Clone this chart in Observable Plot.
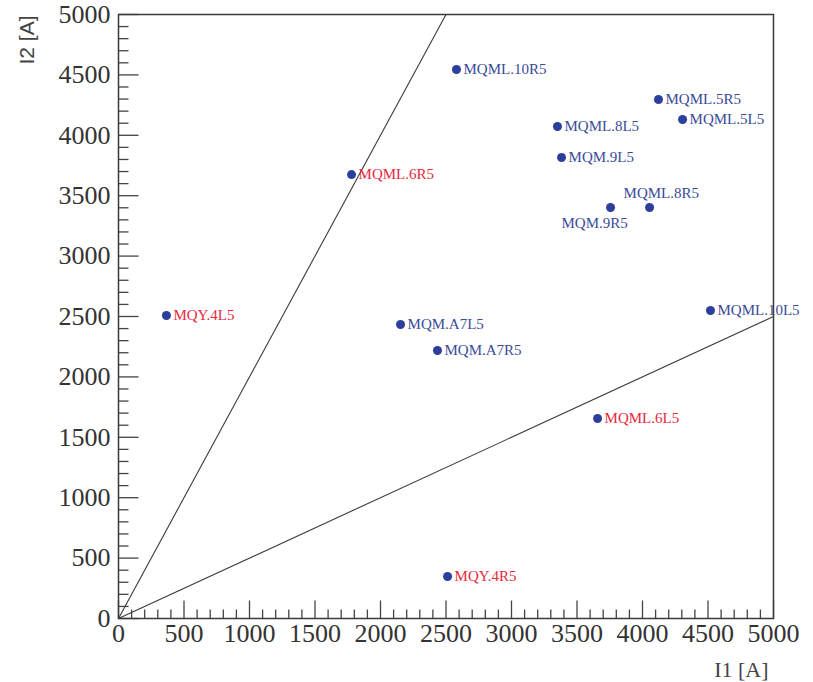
<!DOCTYPE html>
<html><head><meta charset="utf-8">
<script src="https://cdn.jsdelivr.net/npm/d3@7"></script>
<script src="https://cdn.jsdelivr.net/npm/@observablehq/plot@0.6"></script>
<style>body{margin:0;background:#fff}</style>
</head><body><div id="chart"></div>
<script>
const magnets = ["MQML.10R5","MQML.5R5","MQML.5L5","MQML.8L5","MQM.9L5","MQML.8R5","MQM.9R5","MQML.6R5","MQY.4L5","MQM.A7L5","MQM.A7R5","MQML.10L5","MQML.6L5","MQY.4R5"];
const i1 = [2580,4122,4306,3351,3382,4054,3756,1779,366,2153,2435,4519,3657,2512];
const i2 = [4545,4296,4131,4073,3816,3402,3402,3675,2508,2434,2219,2550,1656,348];
const majorTicks = [0,500,1000,1500,2000,2500,3000,3500,4000,4500,5000];
const minorTicks = d3.range(0, 5001, 100).filter(v => v % 500 !== 0);
const ratioLimits = [0.5, 2];
const axisMax = 5000;
const labelAbove = ["MQML.8R5"];
const labelBelow = ["MQM.9R5"];
const yTitle = "I2 [A]";
const xTitle = "I1 [A]";

const data = magnets.map((name, i) => ({name, i1: i1[i], i2: i2[i]}));
const lines = ratioLimits.map(r => {
  const x = Math.min(axisMax, axisMax / r);
  return {x1: 0, y1: 0, x2: x, y2: r * x};
});
const BLUE_DOT = "#2c3f9c", BLUE_TXT = "#3a4b98", RED_TXT = "#e8283c";
const out = d => { const r = d.i2 / d.i1; return r < ratioLimits[0] || r > ratioLimits[1]; };
const txtFill = d => out(d) ? RED_TXT : BLUE_TXT;
const SERIF = "'Liberation Serif', serif";
const SANS = "'Liberation Sans', sans-serif";

const tickUp = {draw(ctx, l) { ctx.moveTo(0, 0); ctx.lineTo(0, -l); }};

const labelOpts = {x: "i1", y: "i2", text: "name", fill: txtFill, fontSize: 15, textAnchor: "start"};

const chart = Plot.plot({
  width: 813, height: 682,
  marginLeft: 118, marginRight: 40, marginTop: 14, marginBottom: 64,
  x: {domain: [0, axisMax]},
  y: {domain: [0, axisMax]},
  style: {background: "#fff", fontFamily: SERIF},
  marks: [
    Plot.link(lines, {x1: "x1", y1: "y1", x2: "x2", y2: "y2", stroke: "#3a3a3a", strokeWidth: 1.1}),
    Plot.vector(majorTicks, {x: d => d, y: 0, length: 18, rotate: 0, anchor: "start", shape: tickUp, stroke: "#444", strokeWidth: 1.3, strokeLinecap: "butt"}),
    Plot.vector(minorTicks, {x: d => d, y: 0, length: 9, rotate: 0, anchor: "start", shape: tickUp, stroke: "#444", strokeWidth: 1.3, strokeLinecap: "butt"}),
    Plot.vector(majorTicks, {x: 0, y: d => d, length: 20, rotate: 90, anchor: "start", shape: tickUp, stroke: "#444", strokeWidth: 1.3, strokeLinecap: "butt"}),
    Plot.vector(minorTicks, {x: 0, y: d => d, length: 10, rotate: 90, anchor: "start", shape: tickUp, stroke: "#444", strokeWidth: 1.3, strokeLinecap: "butt"}),
    Plot.frame({stroke: "#3a3a3a", strokeWidth: 1.5}),
    Plot.axisX({ticks: majorTicks, tickFormat: d => String(d), tickSize: 0, tickPadding: 5, fontSize: 26, fill: "#333", label: null}),
    Plot.axisY({ticks: majorTicks, tickFormat: d => String(d), tickSize: 0, tickPadding: 8, fontSize: 26, fill: "#333", label: null}),
    Plot.dot(data, {x: "i1", y: "i2", r: 4.5, fill: BLUE_DOT, stroke: "none"}),
    Plot.text(data.filter(d => !labelAbove.includes(d.name) && !labelBelow.includes(d.name)), {...labelOpts, dx: 7}),
    Plot.text(data.filter(d => labelAbove.includes(d.name)), {...labelOpts, dx: -26, dy: -14}),
    Plot.text(data.filter(d => labelBelow.includes(d.name)), {...labelOpts, dx: -49, dy: 16}),
    Plot.text([yTitle], {frameAnchor: "top-left", text: d => d, rotate: -90, textAnchor: "end", lineAnchor: "middle", dx: -91, dy: 1, fontSize: 21, fill: "#444"}),
    Plot.text([xTitle], {frameAnchor: "bottom-right", text: d => d, textAnchor: "end", lineAnchor: "middle", dx: -5, dy: 51, fontSize: 22, fill: "#444"})
  ]
});
const svg = d3.select(chart);
svg.selectAll("text").attr("font-family", SERIF).style("font-family", SERIF);
svg.selectAll("text").filter(function() { return this.textContent === yTitle; })
  .attr("font-family", SANS).style("font-family", SANS);
document.getElementById("chart").appendChild(chart);
</script>
</body></html>
